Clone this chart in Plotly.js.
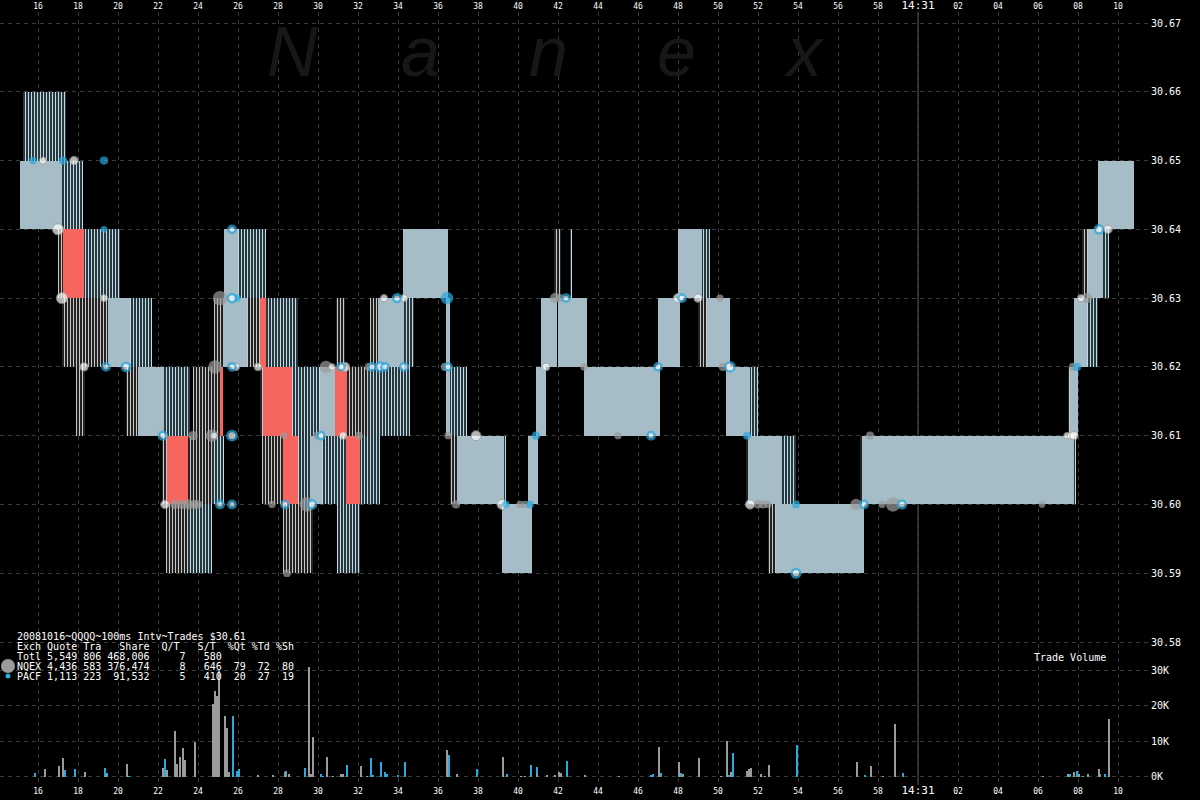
<!DOCTYPE html>
<html><head><meta charset="utf-8">
<script src="https://cdn.plot.ly/plotly-3.0.1.min.js"></script>
<style>html,body{margin:0;padding:0;background:#000;}#chart{width:1200px;height:800px;}</style>
</head><body><div id="chart"></div>
<script>
// ---- Quote (bid/ask) segments, time in seconds after 14:30:00 ----
const segStart = [15.25,15.10,17.20,17.00,17.25,18.30,17.20,19.50,20.60,17.90,20.40,21.00,22.30,23.75,25.10,22.20,22.45,23.50,24.70,22.40,23.50,25.30,26.00,24.80,25.25,26.45,27.10,27.40,27.10,27.25,28.70,30.10,30.85,31.45,32.50,27.20,28.25,29.00,29.60,30.20,31.40,32.10,28.25,30.95,30.90,32.60,33.00,34.30,34.25,36.40,36.60,36.60,36.95,39.30,39.20,40.50,40.90,41.15,42.00,41.80,42.60,43.30,47.00,48.00,49.20,49.00,49.45,50.40,51.60,51.40,51.50,53.20,52.50,52.90,57.10,57.20,67.80,67.50,67.60,67.80,68.45,68.20,68.50,69.25,69.00];
const segEnd   = [17.40,17.20,18.25,17.25,18.30,20.10,19.50,20.60,21.70,18.35,21.00,22.30,23.60,25.10,25.25,22.45,23.50,24.70,25.30,23.50,24.70,26.00,27.40,25.25,26.45,27.10,27.40,29.00,27.25,28.70,30.10,30.85,31.45,32.50,34.60,28.25,29.00,29.60,30.20,31.40,32.10,33.10,29.75,32.10,31.35,33.00,34.30,34.80,36.50,36.60,37.45,36.95,39.30,39.40,40.70,41.00,41.40,41.95,43.45,42.15,42.70,47.10,48.10,49.20,49.60,49.45,50.60,51.60,52.00,51.50,53.20,53.90,52.90,57.30,57.20,67.80,67.90,67.60,68.00,68.45,69.00,68.50,69.25,69.55,70.80];
const segLo    = [30.65,30.64,30.64,30.63,30.63,30.63,30.62,30.62,30.62,30.61,30.61,30.61,30.61,30.61,30.61,30.60,30.60,30.60,30.60,30.59,30.59,30.63,30.63,30.62,30.62,30.62,30.62,30.62,30.61,30.61,30.61,30.61,30.61,30.61,30.61,30.60,30.60,30.60,30.60,30.60,30.60,30.60,30.59,30.59,30.62,30.62,30.62,30.62,30.63,30.61,30.61,30.60,30.60,30.60,30.59,30.60,30.61,30.62,30.62,30.63,30.63,30.61,30.62,30.63,30.63,30.62,30.62,30.61,30.61,30.60,30.60,30.60,30.59,30.59,30.60,30.60,30.60,30.61,30.61,30.62,30.62,30.63,30.63,30.63,30.64];
const segHi    = [30.66,30.65,30.65,30.64,30.64,30.64,30.63,30.63,30.63,30.62,30.62,30.62,30.62,30.62,30.62,30.61,30.61,30.61,30.61,30.60,30.60,30.64,30.64,30.63,30.63,30.63,30.63,30.63,30.62,30.62,30.62,30.62,30.62,30.62,30.62,30.61,30.61,30.61,30.61,30.61,30.61,30.61,30.60,30.60,30.63,30.63,30.63,30.63,30.64,30.63,30.62,30.61,30.61,30.61,30.60,30.61,30.62,30.63,30.63,30.64,30.64,30.62,30.63,30.64,30.64,30.63,30.63,30.62,30.62,30.61,30.61,30.61,30.60,30.60,30.61,30.61,30.61,30.62,30.62,30.63,30.63,30.64,30.64,30.64,30.65];
// S = steady quote, B = flickering (blue), G = flickering (grey), R = locked/crossed
const segKind  = ['B','S','B','G','R','B','G','S','B','G','G','S','B','G','R','G','R','G','B','G','B','S','B','G','S','G','R','B','G','R','B','S','R','G','B','G','R','B','S','B','R','B','G','B','G','G','S','B','S','S','B','G','S','B','S','S','S','S','S','G','B','S','S','S','B','G','S','S','B','G','S','B','G','S','G','S','B','G','S','S','B','G','S','B','S'];

// ---- Trades: time, price, shares, exchange (N = NQEX, P = PACF, Q = PACF ringed, W = other) ----
const tradeT  = [15.75,16.25,17.25,17.80,19.30,
  17.00,19.30,25.70,69.05,69.50,
  17.20,19.30,25.10,25.70,25.95,33.30,33.95,34.30,36.45,41.85,42.10,42.40,48.00,48.20,49.00,50.10,68.15,68.45,
  18.30,19.40,20.40,24.85,25.70,25.90,27.00,30.40,30.70,31.15,31.35,32.55,32.70,33.10,33.35,34.30,36.35,36.50,41.40,43.30,47.00,50.25,50.60,67.75,67.95,
  22.25,23.75,24.70,24.80,25.70,28.30,29.95,30.15,31.25,32.05,36.50,37.90,40.90,45.00,46.65,51.45,57.60,67.45,67.65,67.80,
  22.35,22.85,23.20,23.50,23.80,24.00,25.10,25.70,27.70,28.35,29.45,29.70,36.90,39.20,39.40,40.10,40.35,40.60,51.60,52.00,52.25,52.50,53.90,56.90,57.30,58.20,58.75,59.20,66.20,
  28.45,53.90];
const tradeP  = [30.65,30.65,30.65,30.65,30.65,
  30.64,30.64,30.64,30.64,30.64,
  30.63,30.63,30.63,30.63,30.63,30.63,30.63,30.63,30.63,30.63,30.63,30.63,30.63,30.63,30.63,30.63,30.63,30.63,
  30.62,30.62,30.62,30.62,30.62,30.62,30.62,30.62,30.62,30.62,30.62,30.62,30.62,30.62,30.62,30.62,30.62,30.62,30.62,30.62,30.62,30.62,30.62,30.62,30.62,
  30.61,30.61,30.61,30.61,30.61,30.61,30.61,30.61,30.61,30.61,30.61,30.61,30.61,30.61,30.61,30.61,30.61,30.61,30.61,30.61,
  30.60,30.60,30.60,30.60,30.60,30.60,30.60,30.60,30.60,30.60,30.60,30.60,30.60,30.60,30.60,30.60,30.60,30.60,30.60,30.60,30.60,30.60,30.60,30.60,30.60,30.60,30.60,30.60,30.60,
  30.59,30.59];
const tradeSh = [300,300,500,600,500,
  1500,200,300,500,500,
  1500,300,3000,500,300,300,400,300,2000,1000,500,300,800,300,500,300,300,1000,
  500,300,500,2500,300,300,400,2000,200,300,800,500,300,600,300,400,500,300,400,300,300,500,800,500,500,
  400,800,2000,200,800,200,400,300,400,400,300,1000,500,300,300,400,500,200,300,500,
  600,800,800,1000,800,500,300,300,300,300,3000,500,500,1000,300,300,300,400,800,500,500,300,400,1500,300,300,3000,400,200,
  400,600];
const tradeEx = ['P','W','P','W','P',
  'W','P','Q','Q','W',
  'W','W','N','Q','P','W','Q','W','P','N','N','Q','W','Q','W','N','W','N',
  'W','Q','Q','N','Q','W','W','N','W','Q','W','N','Q','Q','Q','Q','N','Q','W','N','Q','N','Q','N','P',
  'Q','N','N','W','Q','N','N','Q','W','N','N','W','P','N','Q','P','N','W','W','W',
  'W','N','N','N','N','N','Q','Q','N','Q','N','Q','N','W','P','N','N','P','W','N','N','N','P','N','Q','N','N','Q','N',
  'N','Q'];

// ---- Trade volume (shares) per 100ms ----
const nqexVolT = [16.35,17.05,17.25,18.35,19.40,20.45,22.25,22.45,22.85,22.95,23.10,23.25,23.35,23.85,24.75,24.85,24.95,25.05,25.35,25.45,25.55,27.00,27.75,28.35,28.55,29.55,29.65,29.75,30.45,30.75,31.15,31.25,32.15,32.45,36.45,36.95,39.25,40.15,40.35,40.95,41.45,41.85,42.05,42.15,43.35,45.05,47.05,48.05,48.25,49.05,50.15,50.45,50.65,51.45,51.55,51.65,52.15,52.35,52.55,56.95,57.65,58.25,58.85,66.25,67.50,67.80,68.05,68.25,68.50,69.05,69.55];
const nqexVol  = [2000,3000,5300,1300,500,3600,2500,1900,12900,3600,5400,8200,4700,9500,20600,24300,22800,29200,17000,13700,1400,300,300,1300,600,31000,600,10800,5400,200,800,800,3000,200,7500,700,5500,200,200,800,400,400,1200,900,400,200,8300,4000,600,5200,200,10000,1200,1500,2000,2400,700,200,3200,4000,2900,200,15000,200,800,1400,800,200,800,2000,16200];
const pacfVolT = [15.85,17.35,17.85,19.35,19.45,20.55,22.35,23.85,25.05,25.75,25.95,26.05,28.40,29.35,29.75,30.15,30.25,31.45,32.65,32.75,33.15,33.35,33.45,34.00,34.35,36.55,37.95,39.45,40.65,40.95,42.45,46.65,46.75,47.15,48.15,50.55,50.75,53.95,57.35,59.25,67.60,67.95,69.10,69.35,69.55];
const pacfVol  = [1000,1900,2200,2500,900,200,5000,9800,30200,17200,1600,2200,1700,2500,11200,600,200,3300,5300,400,4200,1300,700,400,4000,6000,2000,700,3200,2600,4300,400,700,900,900,400,6800,8900,400,900,800,1600,800,600,16400];

// ---- Axis ticks ----
const xTickVals = [16,18,20,22,24,26,28,30,32,34,36,38,40,42,44,46,48,50,52,54,56,58,60,62,64,66,68,70];
const xTickText = ['16','18','20','22','24','26','28','30','32','34','36','38','40','42','44','46','48','50','52','54','56','58','14:31','02','04','06','08','10'];
const priceTicks = [30.58,30.59,30.60,30.61,30.62,30.63,30.64,30.65,30.66,30.67];
const volTicks = [0,10000,20000,30000];
const volTickText = ['0K','10K','20K','30K'];

// ---- Summary text ----
const summaryLines = [
  '20081016~QQQQ~100ms Intv~Trades $30.61',
  'Exch Quote Tra   Share  Q/T   S/T  %Qt %Td %Sh',
  'Totl 5,549 806 468,006     7   580',
  'NQEX 4,436 583 376,474     8   646  79  72  80',
  'PACF 1,113 223  91,532     5   410  20  27  19'
];
const watermark = ['N','a','n','e','x'];

// ---- Geometry helpers (layout only) ----
const PW = 1150, PT = 12, PB = 785, PH = PB - PT;
const px = x => x / PW;
const py = y => (PB - y) / PH;
const mono = 'DejaVu Sans Mono, monospace';

const traces = [];
const styles = {
  S: {color: '#a6bcc6'},
  B: {color: '#000', pattern: {shape: '|', fgcolor: '#b6dcec', bgcolor: '#000', size: 3, solidity: 0.5}},
  G: {color: '#000', pattern: {shape: '|', fgcolor: '#c8c8c8', bgcolor: '#000', size: 3, solidity: 0.45}},
  R: {color: '#f6665f'}
};
['G','B','S','R'].forEach(k => {
  const idx = segKind.map((v,i) => v === k ? i : -1).filter(i => i >= 0);
  traces.push({
    type: 'bar', xaxis: 'x', yaxis: 'y',
    x: idx.map(i => (segStart[i] + segEnd[i]) / 2),
    width: idx.map(i => segEnd[i] - segStart[i]),
    base: idx.map(i => segLo[i]),
    y: idx.map(i => +(segHi[i] - segLo[i]).toFixed(4)),
    marker: Object.assign({line: {width: 0}}, styles[k]),
    hoverinfo: 'skip', showlegend: false
  });
});

const tradeStyle = {
  N: {color: '#9b9b9b', line: {width: 0}},
  W: {color: '#ffffff', line: {width: 1, color: '#9b9b9b'}},
  P: {color: '#2aa9df', line: {width: 0}},
  Q: {color: '#ffffff', line: {width: 2.5, color: '#2aa9df'}}
};
['N','W','P','Q'].forEach(k => {
  const idx = tradeEx.map((v,i) => v === k ? i : -1).filter(i => i >= 0);
  traces.push({
    type: 'scatter', mode: 'markers', xaxis: 'x', yaxis: 'y',
    x: idx.map(i => tradeT[i]), y: idx.map(i => tradeP[i]),
    marker: Object.assign({size: idx.map(i => 4 + Math.sqrt(tradeSh[i]) * 0.19)}, tradeStyle[k]),
    hoverinfo: 'skip', showlegend: false
  });
});

traces.push({type: 'bar', xaxis: 'x', yaxis: 'y2', x: pacfVolT, y: pacfVol, width: 0.1,
  marker: {color: '#2aa9df', line: {width: 0}}, hoverinfo: 'skip', showlegend: false});
traces.push({type: 'bar', xaxis: 'x', yaxis: 'y2', x: nqexVolT, y: nqexVol, width: 0.1,
  marker: {color: '#9b9b9b', line: {width: 0}}, hoverinfo: 'skip', showlegend: false});
// anchor trace for the top time axis
traces.push({type: 'scatter', mode: 'markers', xaxis: 'x2', yaxis: 'y', x: [40], y: [30.50],
  marker: {opacity: 0}, hoverinfo: 'skip', showlegend: false});

const xTickTextFmt = xTickText.map(t => t.includes(':') ? '<span style="font-size:11px">' + t + '</span>' : t);
const gridColor = '#3a3a3a';
const xRange = [14.1, 14.1 + PW / 20];

const annotations = [];
summaryLines.forEach((s, i) => annotations.push({
  xref: 'paper', yref: 'paper', x: px(15), y: py(636 + i * 10), xanchor: 'left', yanchor: 'middle',
  text: s.replace(/ /g, '\u00a0'), showarrow: false, font: {family: mono, size: 10, color: '#ffffff'}
}));
annotations.push({xref: 'paper', yref: 'paper', x: px(1032), y: py(657), xanchor: 'left', yanchor: 'middle',
  text: 'Trade\u00a0Volume', showarrow: false, font: {family: mono, size: 10, color: '#ffffff'}});
watermark.forEach((c, i) => annotations.push({
  xref: 'paper', yref: 'paper', x: px(292 + i * 128), y: py(52), xanchor: 'center', yanchor: 'middle',
  text: '<i>' + c + '</i>', showarrow: false,
  font: {family: 'Liberation Sans, Arial, sans-serif', size: 70, color: '#171717', style: 'italic'}
}));

const shapes = [
  {type: 'line', xref: 'x', yref: 'paper', x0: 60, x1: 60, y0: 0, y1: 1, line: {color: '#5a5a5a', width: 1}, layer: 'below'},
  {type: 'circle', xref: 'paper', yref: 'paper', xsizemode: 'pixel', ysizemode: 'pixel',
   xanchor: px(8), yanchor: py(666), x0: -7, x1: 7, y0: -7, y1: 7, fillcolor: '#9b9b9b', line: {width: 0}},
  {type: 'circle', xref: 'paper', yref: 'paper', xsizemode: 'pixel', ysizemode: 'pixel',
   xanchor: px(8), yanchor: py(676), x0: -2.5, x1: 2.5, y0: -2.5, y1: 2.5, fillcolor: '#2aa9df', line: {width: 0}}
];

const splitY = 650;
const layout = {
  width: 1200, height: 800,
  margin: {l: 0, r: 1200 - PW, t: PT, b: 800 - PB, pad: 0},
  paper_bgcolor: '#000', plot_bgcolor: '#000',
  barmode: 'overlay', bargap: 0, showlegend: false,
  xaxis: {domain: [0, 1], range: xRange, anchor: 'y2', side: 'bottom',
    tickvals: xTickVals, ticktext: xTickTextFmt, ticks: '', ticklen: 0,
    tickfont: {family: mono, size: 8, color: '#ffffff'},
    showgrid: true, gridcolor: gridColor, griddash: '4px,4px', gridwidth: 1,
    zeroline: false, showline: false, fixedrange: true},
  xaxis2: {overlaying: 'x', matches: 'x', range: xRange, anchor: 'y', side: 'top',
    tickvals: xTickVals, ticktext: xTickTextFmt, ticks: '', ticklen: 0,
    tickfont: {family: mono, size: 8, color: '#ffffff'},
    showgrid: false, zeroline: false, showline: false},
  yaxis: {domain: [py(splitY), 1], range: [30.58 - 8 / 6880, 30.67 + 11 / 6880], side: 'right',
    tickvals: priceTicks, ticktext: priceTicks.map(v => v.toFixed(2)), ticks: '', ticklen: 0,
    tickfont: {family: mono, size: 10, color: '#ffffff'},
    showgrid: true, gridcolor: gridColor, griddash: '4px,4px', gridwidth: 1,
    zeroline: false, showline: false, anchor: 'x'},
  yaxis2: {domain: [0, py(splitY)], range: [-(8.5 / 35.3) * 10000, ((776.5 - splitY) / 35.3) * 10000], side: 'right',
    tickvals: volTicks, ticktext: volTickText, ticks: '', ticklen: 0,
    tickfont: {family: mono, size: 10, color: '#ffffff'},
    showgrid: true, gridcolor: gridColor, griddash: '4px,4px', gridwidth: 1,
    zeroline: false, showline: false, anchor: 'x'},
  annotations: annotations,
  shapes: shapes
};

Plotly.newPlot('chart', traces, layout, {displayModeBar: false, staticPlot: true});
</script>
</body></html>
